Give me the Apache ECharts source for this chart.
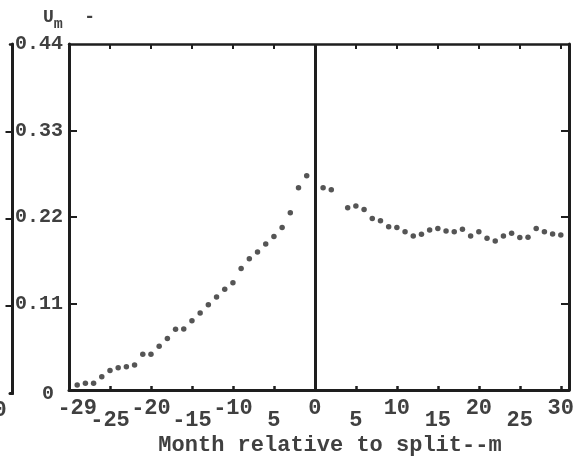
<!DOCTYPE html>
<html>
<head>
<meta charset="utf-8">
<script src="https://cdn.jsdelivr.net/npm/echarts@6/dist/echarts.min.js"></script>
<style>
html,body{margin:0;padding:0;background:#fff;}
#chart{width:577px;height:461px;}
</style>
</head>
<body>
<div id="chart"></div>
<script>
// Months before the split and the values
const monthsBefore = [-29,-28,-27,-26,-25,-24,-23,-22,-21,-20,-19,-18,-17,-16,-15,-14,-13,-12,-11,-10,-9,-8,-7,-6,-5,-4,-3,-2,-1];
const valuesBefore = [0.0063,0.0085,0.0085,0.0167,0.0248,0.0283,0.0295,0.0318,0.0455,0.0455,0.0556,0.0654,0.0773,0.0777,0.0882,0.0978,0.1084,0.1184,0.1280,0.1364,0.1544,0.1669,0.1754,0.1858,0.1951,0.2068,0.2253,0.2571,0.2725];
// Months after the split
const monthsAfter = [1,2,4,5,6,7,8,9,10,11,12,13,14,15,16,17,18,19,20,21,22,23,24,25,26,27,28,29,30];
const valuesAfter = [0.2571,0.2546,0.2319,0.2341,0.2294,0.2181,0.2152,0.2077,0.2068,0.2014,0.1959,0.1980,0.2034,0.2055,0.2021,0.2014,0.2043,0.1959,0.2014,0.1930,0.1896,0.1959,0.1992,0.1938,0.1942,0.2055,0.2014,0.1984,0.1971];
// Tick labels (staggered: upper row and lower row)
const xUpperValues = [-29,-20,-10,0,10,20,30];
const xUpperLabels = ['-29','-20','-10','0','10','20','30'];
const xLowerValues = [-25,-15,-5,5,15,25];
const xLowerLabels = ['-25','-15','5','5','15','25'];
const xTickMarks = [-25,-20,-15,-10,-5,5,10,15,20,25,30];
const yTickValues = [0,0.11,0.22,0.33,0.44];
const yTickLabels = ['0','0.11','0.22','0.33','0.44'];
const xTitle = 'Month relative to split--m';

const FONT = '"Liberation Mono","DejaVu Sans Mono",monospace';
const INK = '#1e1e1e';
const TXT = '#404040';
const FW = 'bold';

const chart = echarts.init(document.getElementById('chart'), null, {renderer:'canvas'});
const pairsBefore = monthsBefore.map((m,i)=>[m, valuesBefore[i]]);
const pairsAfter = monthsAfter.map((m,i)=>[m, valuesAfter[i]]);

function lookup(vals, labs){
  return function(v){
    let best=0, d=1e9;
    vals.forEach((t,i)=>{ if(Math.abs(t-v)<d){d=Math.abs(t-v); best=i;} });
    return labs[best];
  };
}
const labelText = {color:TXT, fontFamily:FONT, fontSize:22, fontWeight:FW};

chart.setOption({
  animation:false,
  backgroundColor:'#fff',
  grid:[
    {left:69, right:5, top:44, bottom:67.5, show:false},
    {left:0, width:10, top:44, bottom:67.5, show:false}
  ],
  xAxis:[
    {
      type:'value', gridIndex:0, min:-30, max:31, position:'bottom', offset:0,
      axisLine:{show:true, onZero:false, lineStyle:{color:INK, width:3}},
      axisTick:{show:true, inside:true, length:4, customValues:xTickMarks, lineStyle:{color:INK, width:2.5}},
      splitLine:{show:false},
      axisLabel:Object.assign({show:true, customValues:xUpperValues, margin:7, hideOverlap:false, showMinLabel:true, showMaxLabel:true,
        formatter:lookup(xUpperValues, xUpperLabels)}, labelText),
      name:xTitle, nameLocation:'middle', nameGap:44,
      nameTextStyle:{fontFamily:FONT, fontSize:22, fontWeight:FW, color:TXT, padding:[0,0,0,22]}
    },
    {
      type:'value', gridIndex:0, min:-30, max:31, position:'bottom', offset:0,
      axisLine:{show:false, onZero:false}, axisTick:{show:false}, splitLine:{show:false},
      axisLabel:Object.assign({show:true, customValues:xLowerValues, margin:19, hideOverlap:false, showMinLabel:true, showMaxLabel:true,
        formatter:lookup(xLowerValues, xLowerLabels)}, labelText)
    },
    {
      type:'value', gridIndex:0, min:-30, max:31, position:'top', offset:0,
      axisLine:{show:true, onZero:false, lineStyle:{color:INK, width:2.5}},
      axisTick:{show:true, inside:true, length:5, customValues:xTickMarks, lineStyle:{color:INK, width:2}},
      axisLabel:{show:false}, splitLine:{show:false}
    },
    {
      type:'value', gridIndex:1, min:0, max:1, position:'bottom',
      axisLine:{show:true, onZero:false, lineStyle:{color:INK, width:3}},
      axisTick:{show:false}, splitLine:{show:false},
      axisLabel:{show:true, customValues:[0], hideOverlap:false, showMinLabel:true, margin:6,
        formatter:function(){return '{p|0}';},
        rich:{p:{fontFamily:FONT, fontSize:22, fontWeight:FW, color:TXT, padding:[0,20,0,0]}}}
    },
    {
      type:'value', gridIndex:1, min:0, max:1, position:'top',
      axisLine:{show:true, onZero:false, lineStyle:{color:INK, width:2.5}},
      axisTick:{show:false}, splitLine:{show:false}, axisLabel:{show:false}
    }
  ],
  yAxis:[
    {
      type:'value', gridIndex:0, min:0, max:0.44, position:'left',
      axisLine:{show:true, onZero:false, lineStyle:{color:INK, width:3}},
      axisTick:{show:true, inside:true, length:8, customValues:[0.11,0.22,0.33], lineStyle:{color:INK, width:2}},
      splitLine:{show:false},
      axisLabel:{
        show:true, customValues:yTickValues, margin:6, hideOverlap:false, showMinLabel:true, showMaxLabel:true,
        color:TXT, fontFamily:FONT, fontSize:20, fontWeight:FW,
        formatter:function(v){
          const t = lookup(yTickValues, yTickLabels)(v);
          return t === yTickLabels[0] ? '{z|'+t+'}' : t;
        },
        rich:{ z:{fontFamily:FONT, fontSize:20, fontWeight:FW, color:TXT, padding:[8,9,0,0]} }
      },
      name:'{u|U}{s|m}{d|  -}', nameLocation:'end', nameGap:12,
      nameTextStyle:{
        rich:{
          u:{fontFamily:FONT, fontSize:18, fontWeight:FW, color:TXT, verticalAlign:'top', lineHeight:24, padding:[0,0,8,0]},
          s:{fontFamily:FONT, fontSize:15, fontWeight:FW, color:TXT, verticalAlign:'bottom', lineHeight:24},
          d:{fontFamily:FONT, fontSize:18, fontWeight:FW, color:TXT, verticalAlign:'top', lineHeight:24, padding:[0,0,8,0]}
        }
      }
    },
    {
      type:'value', gridIndex:0, min:0, max:0.44, position:'right',
      axisLine:{show:true, onZero:false, lineStyle:{color:INK, width:3}},
      axisTick:{show:true, inside:true, length:8, customValues:[0.11,0.22,0.33], lineStyle:{color:INK, width:2}},
      axisLabel:{show:false}, splitLine:{show:false}
    },
    {
      type:'value', gridIndex:1, min:0, max:0.44, position:'right',
      axisLine:{show:true, onZero:false, lineStyle:{color:INK, width:3}},
      axisTick:{show:true, inside:true, length:7, customValues:[0.11,0.22,0.33], lineStyle:{color:INK, width:2}},
      axisLabel:{show:false}, splitLine:{show:false}
    }
  ],
  series:[
    {
      type:'scatter', xAxisIndex:0, yAxisIndex:0, data:pairsBefore,
      symbol:'circle', symbolSize:5.5, itemStyle:{color:'#2a2a2a'},
      markLine:{
        silent:true, symbol:['none','none'], label:{show:false},
        lineStyle:{color:INK, width:3, type:'solid'},
        data:[{xAxis:0}]
      }
    },
    {
      type:'scatter', xAxisIndex:0, yAxisIndex:0, data:pairsAfter,
      symbol:'circle', symbolSize:5.5, itemStyle:{color:'#2a2a2a'}
    }
  ]
});
</script>
</body>
</html>
